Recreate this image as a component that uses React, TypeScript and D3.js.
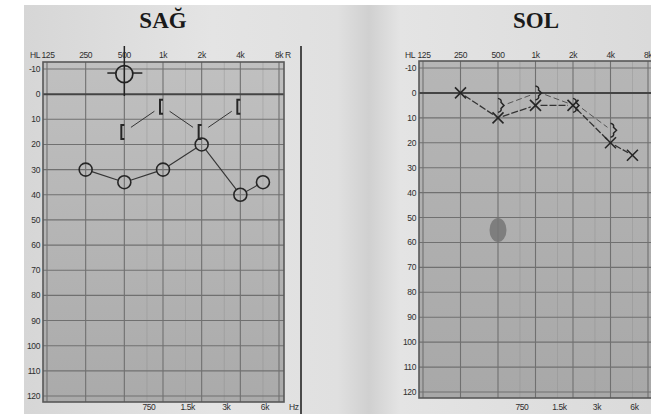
import React from "react";
import * as d3 from "d3";

const octaveFreqs = [125, 250, 500, 1000, 2000, 4000, 8000];
const octaveLabels = ["125", "250", "500", "1k", "2k", "4k", "8k"];
const halfFreqs = [750, 1500, 3000, 6000];
const halfLabels = ["750", "1.5k", "3k", "6k"];
const dbTicks = [-10, 0, 10, 20, 30, 40, 50, 60, 70, 80, 90, 100, 110, 120];

// Right ear (SAĞ)
const rightAirFreqs = [250, 500, 1000, 2000, 4000, 6000];
const rightAirDb = [30, 35, 30, 20, 40, 35];
const rightBoneFreqs = [500, 1000, 2000, 4000];
const rightBoneDb = [15, 5, 15, 5];
const rightCursorFreq = 500;
const rightCursorDb = -8;

// Left ear (SOL)
const leftAirFreqs = [250, 500, 1000, 2000, 4000, 6000];
const leftAirDb = [0, 10, 5, 5, 20, 25];
const leftBoneFreqs = [500, 1000, 2000, 4000];
const leftBoneDb = [5, 0, 5, 15];
const leftBlobFreq = 500;
const leftBlobDb = 55;

type PanelCfg = {
  xr: [number, number];
  yr: [number, number];
  fx0: number;
  fx1: number;
  fy0: number;
  fy1: number;
  yLabelX: number;
  hlX: number;
  title: string;
  titleX: number;
  rightTag?: string;
  hz?: boolean;
  fill: string;
};

function shorten(x1: number, y1: number, x2: number, y2: number, a: number, b: number) {
  const dx = x2 - x1, dy = y2 - y1;
  const L = Math.hypot(dx, dy) || 1;
  return [x1 + (dx * a) / L, y1 + (dy * a) / L, x2 - (dx * b) / L, y2 - (dy * b) / L];
}

function Panel({ c, children }: { c: PanelCfg; children: (x: any, y: any) => React.ReactNode }) {
  const x = d3.scaleLog().domain([125, 8000]).range(c.xr);
  const y = d3.scaleLinear().domain([-10, 120]).range(c.yr);
  const lab = { fontFamily: "Liberation Sans, Arial, sans-serif", fontSize: 8.5, fill: "#2e2e2e", letterSpacing: -0.4 } as const;
  return (
    <g>
      <rect x={c.fx0} y={c.fy0} width={c.fx1 - c.fx0} height={c.fy1 - c.fy0} fill={c.fill} />
      {halfFreqs.map((f) => (
        <line key={"h" + f} x1={x(f)} x2={x(f)} y1={c.fy0} y2={c.fy1} stroke="#8a8a8a" strokeWidth={0.6} opacity={0.6} />
      ))}
      {octaveFreqs.map((f) => (
        <line key={"o" + f} x1={x(f)} x2={x(f)} y1={c.fy0} y2={c.fy1} stroke="#707070" strokeWidth={1.1} />
      ))}
      {dbTicks.map((d) => (
        <line key={"d" + d} x1={c.fx0} x2={c.fx1} y1={y(d)} y2={y(d)} stroke={d === 0 ? "#444444" : "#707070"} strokeWidth={d === 0 ? 2 : 1.1} />
      ))}
      <rect x={c.fx0} y={c.fy0} width={c.fx1 - c.fx0} height={c.fy1 - c.fy0} fill="none" stroke="#585858" strokeWidth={1.6} />
      <text x={c.titleX} y={28} textAnchor="middle" fontFamily="Liberation Serif, Times New Roman, serif" fontWeight="bold" fontSize={23} fill="#1a1a1a">
        {c.title}
      </text>
      <text x={c.hlX} y={58} {...lab}>HL</text>
      {octaveFreqs.map((f, i) => (
        <text key={"t" + f} x={x(f) + (i === 0 ? 1 : 0)} y={58} textAnchor="middle" {...lab}>
          {octaveLabels[i]}
        </text>
      ))}
      {c.rightTag && (
        <text x={x(8000) + 6} y={58} {...lab}>{c.rightTag}</text>
      )}
      {dbTicks.map((d) => (
        <text key={"y" + d} x={c.yLabelX} y={y(d) + 3} textAnchor="end" {...lab}>{d}</text>
      ))}
      {halfFreqs.map((f, i) => (
        <text key={"b" + f} x={x(f) + 2} y={410} textAnchor="middle" {...lab}>{halfLabels[i]}</text>
      ))}
      {c.hz && <text x={c.fx1 + 5} y={410} {...lab}>Hz</text>}
      {children(x, y)}
    </g>
  );
}

const leftCfg: PanelCfg = {
  xr: [47, 279], yr: [69, 396], fx0: 43, fx1: 284, fy0: 62, fy1: 402,
  yLabelX: 40, hlX: 30, title: "SAĞ", titleX: 163, rightTag: "R", hz: true, fill: "url(#plotL)",
};
const rightCfg: PanelCfg = {
  xr: [423, 648], yr: [68, 392], fx0: 419, fx1: 668, fy0: 61, fy1: 398,
  yLabelX: 416, hlX: 405, title: "SOL", titleX: 536, fill: "url(#plotR)",
};

export default function App() {
  const ink = "#262626";
  return (
    <div style={{ position: "fixed", left: 0, top: 0 }}>
      <svg width={651} height={414} style={{ display: "block" }}>
        <defs>
          <linearGradient id="page" x1="0" x2="1" y1="0" y2="0">
            <stop offset="0" stopColor="#d6d6d6" />
            <stop offset="0.3" stopColor="#e4e4e4" />
            <stop offset="0.5" stopColor="#e0e0e0" />
            <stop offset="0.55" stopColor="#d0d0d0" />
            <stop offset="0.6" stopColor="#e4e4e4" />
            <stop offset="1" stopColor="#dadada" />
          </linearGradient>
          <linearGradient id="plotL" x1="0" x2="0" y1="0" y2="1">
            <stop offset="0" stopColor="#c0c0c0" />
            <stop offset="1" stopColor="#aaaaaa" />
          </linearGradient>
          <linearGradient id="plotR" x1="0" x2="0" y1="0" y2="1">
            <stop offset="0" stopColor="#b6b6b6" />
            <stop offset="1" stopColor="#a8a8a8" />
          </linearGradient>
        </defs>
        <rect width={651} height={414} fill="#ffffff" />
        <rect x={24} y={5} width={627} height={409} fill="url(#page)" />
        <line x1={301} x2={301} y1={46} y2={414} stroke="#4a4a4a" strokeWidth={2} />

        <Panel c={leftCfg}>
          {(x, y) => {
            const air = rightAirFreqs.map((f, i) => [x(f), y(rightAirDb[i])]);
            const bone = rightBoneFreqs.map((f, i) => [x(f) - 3, y(rightBoneDb[i])]);
            const r = 6.5;
            const cx = x(rightCursorFreq), cy = y(rightCursorDb);
            return (
              <g>
                {air.slice(1).map((p, i) => {
                  const [a, b, c2, d] = shorten(air[i][0], air[i][1], p[0], p[1], r, r);
                  return <line key={"al" + i} x1={a} y1={b} x2={c2} y2={d} stroke="#353535" strokeWidth={1.1} />;
                })}
                {air.map((p, i) => (
                  <circle key={"ac" + i} cx={p[0]} cy={p[1]} r={r} fill="none" stroke={ink} strokeWidth={1.6} />
                ))}
                {bone.slice(1).map((p, i) => {
                  const [a, b, c2, d] = shorten(bone[i][0] + 3, bone[i][1], p[0] + 1, p[1], 8, 8);
                  return <line key={"bl" + i} x1={a} y1={b} x2={c2} y2={d} stroke="#353535" strokeWidth={1} />;
                })}
                {bone.map((p, i) => (
                  <path key={"bm" + i} d={`M${p[0] + 3},${p[1] - 7} L${p[0]},${p[1] - 7} L${p[0]},${p[1] + 7} L${p[0] + 3},${p[1] + 7}`} fill="none" stroke={ink} strokeWidth={2} />
                ))}
                <circle cx={cx} cy={cy} r={8.5} fill="none" stroke="#222" strokeWidth={1.7} />
                <line x1={cx} x2={cx} y1={46} y2={cy + 22} stroke="#222" strokeWidth={1.5} />
                <line x1={cx - 17} x2={cx - 8.5} y1={cy - 1} y2={cy - 1} stroke="#222" strokeWidth={1.5} />
                <line x1={cx + 8.5} x2={cx + 18} y1={cy - 1} y2={cy - 1} stroke="#222" strokeWidth={1.5} />
              </g>
            );
          }}
        </Panel>

        <Panel c={rightCfg}>
          {(x, y) => {
            const air = leftAirFreqs.map((f, i) => [x(f), y(leftAirDb[i])]);
            const bone = leftBoneFreqs.map((f, i) => [x(f) + 1, y(leftBoneDb[i])]);
            const s = 5.5;
            return (
              <g>
                <ellipse cx={x(leftBlobFreq)} cy={y(leftBlobDb)} rx={8.5} ry={12} fill="#767676" opacity={0.85} />
                {bone.slice(1).map((p, i) => {
                  const [a, b, c2, d] = shorten(bone[i][0] + 4, bone[i][1], p[0], p[1], 5, 5);
                  return <line key={"bl" + i} x1={a} y1={b} x2={c2} y2={d} stroke="#555" strokeWidth={1} strokeDasharray="6 3" />;
                })}
                {air.slice(1).map((p, i) => {
                  const [a, b, c2, d] = shorten(air[i][0], air[i][1], p[0], p[1], 5, 5);
                  return <line key={"al" + i} x1={a} y1={b} x2={c2} y2={d} stroke="#333" strokeWidth={1.3} strokeDasharray="7 2" />;
                })}
                {bone.map((p, i) => (
                  <path key={"bm" + i} d={`M${p[0] - 1},${p[1] - 7} Q${p[0] + 3},${p[1] - 6} ${p[0] + 2},${p[1] - 3} L${p[0] + 5},${p[1]} L${p[0] + 2},${p[1] + 3} Q${p[0] + 3},${p[1] + 6} ${p[0] - 1},${p[1] + 7}`} fill="none" stroke={ink} strokeWidth={1.5} />
                ))}
                {air.map((p, i) => (
                  <g key={"x" + i} stroke={ink} strokeWidth={1.6}>
                    <line x1={p[0] - s} y1={p[1] - s} x2={p[0] + s} y2={p[1] + s} />
                    <line x1={p[0] - s} y1={p[1] + s} x2={p[0] + s} y2={p[1] - s} />
                  </g>
                ))}
              </g>
            );
          }}
        </Panel>
      </svg>
    </div>
  );
}
